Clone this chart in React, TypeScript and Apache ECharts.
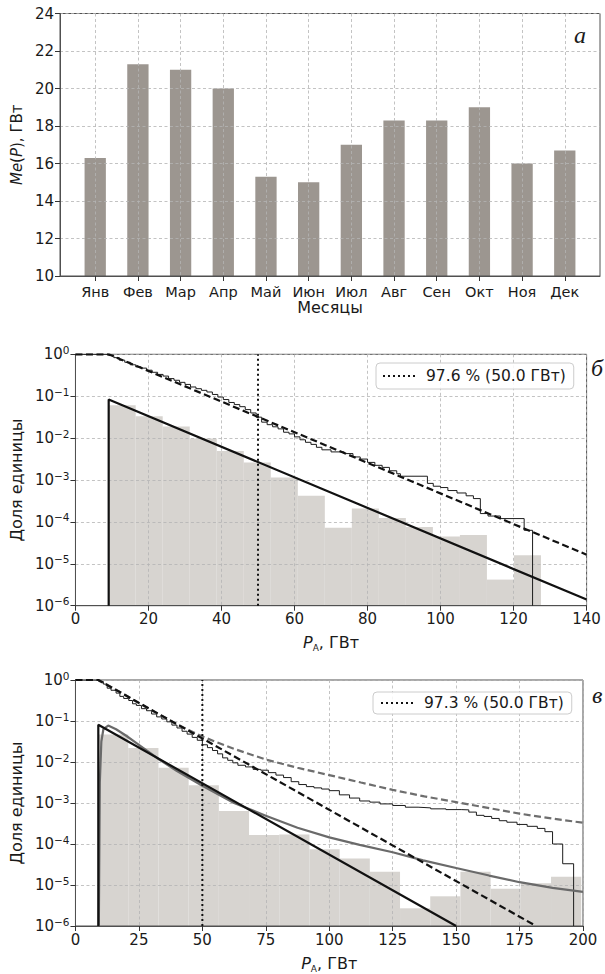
import React, { useEffect, useRef } from 'react';
import * as echarts from 'echarts';

// ---------- Panel а: monthly median power ----------
const MONTHS = ['Янв', 'Фев', 'Мар', 'Апр', 'Май', 'Июн', 'Июл', 'Авг', 'Сен', 'Окт', 'Ноя', 'Дек'];
const MEDIAN_POWER = [16.3, 21.3, 21.0, 20.0, 15.3, 15.0, 17.0, 18.3, 18.3, 19.0, 16.0, 16.7];
const MONTH_POS = [0, 1, 2, 3, 4, 5, 6, 7, 8, 9, 10, 11];

// ---------- Panel б ----------
const HIST_B_EDGES = [9.1, 16.5, 23.9, 31.3, 38.7, 46.1, 53.5, 60.9, 68.3, 75.7, 83.1, 90.5, 97.9, 105.3, 112.7, 120.1, 127.5];
const HIST_B_HEIGHTS = [0.061, 0.033, 0.019, 0.0098, 0.0049, 0.0026, 0.00114, 4.2e-4, 7.3e-5, 2.1e-4, 1.24e-4, 7.6e-5, 4.5e-5, 4.9e-5, 4.2e-6, 1.6e-5];
const EMP_B_X = [0, 9.1, 10.5, 12, 13.5, 15, 16.5, 18, 19.5, 21, 22.5, 24, 25.5, 27, 28.5, 30, 31.5, 33, 34.5, 36, 37.5, 39, 40.5, 42, 43.5, 45, 46.5, 48, 49.5, 51, 52.5, 54, 55.5, 57, 58.5, 60, 61.5, 63, 64.5, 66, 67.5, 70, 73.6, 76, 78, 80, 82, 84, 86, 88, 89, 96.4, 98, 100, 102, 104.5, 107, 109, 110.9, 113, 116.4, 122.9, 125.2];
const EMP_B_Y = [1, 0.933, 0.832, 0.724, 0.646, 0.562, 0.501, 0.468, 0.417, 0.372, 0.331, 0.302, 0.263, 0.24, 0.214, 0.191, 0.166, 0.151, 0.138, 0.126, 0.11, 0.0955, 0.0832, 0.0708, 0.0631, 0.0562, 0.0479, 0.0398, 0.0316, 0.024, 0.0209, 0.0186, 0.0166, 0.0138, 0.0126, 0.0107, 0.00912, 0.00794, 0.00708, 0.00603, 0.00525, 0.00468, 0.00427, 0.00355, 0.00316, 0.00263, 0.00224, 0.002, 0.00166, 0.00141, 0.00123, 8.3e-4, 7.1e-4, 6.6e-4, 5.6e-4, 4.9e-4, 4.2e-4, 3.6e-4, 1.58e-4, 1.38e-4, 1.2e-4, 6.3e-5, 1e-6];
const FIT_B_PDF_X = [9.1, 9.1, 140];
const FIT_B_PDF_Y = [1e-6, 0.083, 1.4e-6];
const FIT_B_SF_X = [0, 9.1, 140];
const FIT_B_SF_Y = [1, 1, 1.65e-5];
const THRESH_B_LABEL = '97.6 % (50.0 ГВт)';

// ---------- Panel в ----------
const HIST_V_EDGES = [8.9, 20.8, 32.7, 44.6, 56.5, 68.4, 80.3, 92.2, 104.1, 116.0, 127.9, 139.8, 151.7, 163.6, 175.5, 187.4, 199.3];
const HIST_V_HEIGHTS = [0.047, 0.022, 0.0072, 0.0027, 6.4e-4, 1.66e-4, 1.7e-4, 7.4e-5, 4.4e-5, 2.1e-5, 2.7e-6, 5.3e-6, 2.1e-5, 8.1e-6, 1.1e-5, 1.6e-5];
const EMP_V_X = [0, 9.3, 11, 12.5, 14, 16, 17.5, 19, 21, 22.5, 24, 26, 28, 30, 32, 34, 36, 38, 40, 42, 44, 46, 48, 50, 52, 54, 56, 58, 60, 62, 64, 67, 70, 73, 76, 79, 82, 85, 88, 91, 94, 97, 100, 104, 108, 112, 116, 120, 125, 130, 135, 140, 146, 152, 155, 158, 161, 164, 167, 170, 174, 178, 182, 185, 188, 192, 196.3];
const EMP_V_Y = [1, 0.912, 0.794, 0.631, 0.562, 0.479, 0.398, 0.355, 0.316, 0.263, 0.24, 0.2, 0.178, 0.148, 0.126, 0.112, 0.0955, 0.0794, 0.0676, 0.0562, 0.0479, 0.0398, 0.0339, 0.0263, 0.0224, 0.0191, 0.0158, 0.0126, 0.011, 0.00955, 0.00832, 0.00759, 0.00661, 0.00631, 0.0055, 0.00479, 0.00417, 0.00331, 0.00282, 0.00251, 0.00234, 0.00219, 0.002, 0.00158, 0.00132, 0.00112, 0.00105, 9.5e-4, 8.7e-4, 7.9e-4, 7.6e-4, 7.2e-4, 6.9e-4, 6.8e-4, 6.0e-4, 5.0e-4, 4.7e-4, 4.2e-4, 3.7e-4, 3.4e-4, 3.0e-4, 2.7e-4, 2.4e-4, 2.0e-4, 1e-4, 3.3e-5, 1e-6];
const FIT_V_PDF_X = [9, 9, 150];
const FIT_V_PDF_Y = [1e-6, 0.081, 1e-6];
const FIT_V_SF_X = [0, 9, 181.5];
const FIT_V_SF_Y = [1, 1, 1e-6];
const ALT_V_PDF_X = [9.2, 9.6, 10.2, 11, 12.9, 16, 20, 25, 33, 40, 50, 62.5, 75, 87.5, 100, 112, 125, 137, 150, 163, 175, 188, 200];
const ALT_V_PDF_Y = [1e-6, 3.2e-3, 0.0316, 0.063, 0.0776, 0.063, 0.0437, 0.0263, 0.0115, 0.00603, 0.00263, 0.001, 4.9e-4, 2.5e-4, 1.45e-4, 9.5e-5, 6.3e-5, 4.0e-5, 2.6e-5, 1.7e-5, 1.17e-5, 8.5e-6, 6.8e-6];
const ALT_V_SF_X = [0, 9, 15, 20, 25, 30, 40, 50, 62.5, 75, 87.5, 100, 112.5, 125, 137.5, 150, 162.5, 175, 187.5, 200];
const ALT_V_SF_Y = [1, 1, 0.631, 0.417, 0.275, 0.182, 0.0832, 0.0417, 0.0209, 0.0115, 0.00724, 0.00479, 0.00316, 0.00209, 0.00145, 0.00105, 7.6e-4, 5.5e-4, 4.2e-4, 3.3e-4];
const THRESH_V_LABEL = '97.3 % (50.0 ГВт)';

const THRESHOLD_X = 50;
const LOG_MIN = 1e-6;
const LOG_MAX = 1;

const FONT = 'DejaVu Sans';
const TEXT = '#1a1a1a';
const FRAME = '#505050';
const GRID_LINE = { color: '#b4b4b4', width: 0.8, type: [3, 2.5] as any };
const HIST_FILL = '#d7d4d0';

const pairs = (xs: number[], ys: number[]) => xs.map((x, i) => [x, ys[i]]);
const bins = (edges: number[], h: number[]) => h.map((v, i) => [edges[i], edges[i + 1], v]);

const logLabel = (v: number) => {
  const e = Math.round(Math.log10(v));
  return `{b|10}{s|${e === 0 ? '0' : '\u2212' + -e}}`;
};
const logRich = {
  b: { fontSize: 15, color: TEXT, fontFamily: FONT, lineHeight: 20, verticalAlign: 'middle' },
  s: { fontSize: 10.5, color: TEXT, fontFamily: FONT, lineHeight: 10, verticalAlign: 'top' },
};

const axisLineStyle = { show: true, onZero: false, lineStyle: { color: FRAME, width: 1 } };
const tickStyle = { show: true, length: 5, inside: false, lineStyle: { color: '#333', width: 1 } };

function histSeries(data: number[][], xi: number) {
  return {
    type: 'custom',
    xAxisIndex: xi,
    yAxisIndex: xi,
    z: -1,
    silent: true,
    encode: { x: [0, 1], y: 2 },
    data,
    renderItem: (params: any, api: any) => {
      const p0 = api.coord([api.value(0), api.value(2)]);
      const p1 = api.coord([api.value(1), LOG_MIN]);
      return {
        type: 'rect',
        shape: { x: p0[0], y: p0[1], width: p1[0] - p0[0], height: p1[1] - p0[1] },
        style: { fill: HIST_FILL },
      };
    },
  };
}

function lineSeries(data: number[][], xi: number, color: string, width: number, type: any, step?: any, name?: string) {
  return {
    type: 'line',
    name,
    xAxisIndex: xi,
    yAxisIndex: xi,
    data,
    step: step || false,
    symbol: 'none',
    showSymbol: false,
    silent: true,
    lineStyle: { color, width, type },
    itemStyle: { color },
  };
}

function logXAxis(gridIndex: number, max: number, interval: number) {
  return {
    gridIndex,
    type: 'value',
    min: 0,
    max,
    interval,
    axisLine: axisLineStyle,
    axisTick: tickStyle,
    axisLabel: { fontSize: 15, color: TEXT, fontFamily: FONT, margin: 6 },
    splitLine: { show: true, lineStyle: GRID_LINE },
    name: '{i|P}{s|А}, ГВт',
    nameLocation: 'middle',
    nameGap: 27,
    nameTextStyle: {
      fontSize: 16, color: TEXT, fontFamily: FONT,
      rich: {
        i: { fontSize: 16, fontStyle: 'italic', color: TEXT, fontFamily: FONT, lineHeight: 20, verticalAlign: 'middle' },
        s: { fontSize: 9, color: TEXT, fontFamily: FONT, lineHeight: 9, verticalAlign: 'bottom' },
      },
    },
  };
}

function logYAxis(gridIndex: number, nameGap: number) {
  return {
    gridIndex,
    type: 'log',
    logBase: 10,
    min: LOG_MIN,
    max: LOG_MAX,
    axisLine: axisLineStyle,
    axisTick: tickStyle,
    axisLabel: { formatter: logLabel, rich: logRich, margin: 6 },
    splitLine: { show: true, lineStyle: GRID_LINE },
    name: 'Доля единицы',
    nameLocation: 'middle',
    nameRotate: 90,
    nameGap,
    nameTextStyle: { fontSize: 16, color: TEXT, fontFamily: FONT },
  };
}

function legendFor(label: string, left: number, top: number, padV: number, padL: number) {
  return {
    data: [label],
    left,
    top,
    orient: 'horizontal',
    itemWidth: 33,
    itemHeight: 14,
    padding: [padV, 8, padV, padL],
    borderColor: '#cccccc',
    borderWidth: 1,
    borderRadius: 4,
    backgroundColor: 'rgba(255,255,255,0.85)',
    selectedMode: false,
    itemStyle: { opacity: 0 },
    textStyle: { fontSize: 15.5, color: TEXT, fontFamily: FONT, padding: [0, 0, 0, 5] },
  };
}

const option: any = {
  animation: false,
  textStyle: { fontFamily: FONT },
  grid: [
    { left: 60, top: 13.5, width: 540, height: 262.5, show: true, borderColor: FRAME, borderWidth: 1, backgroundColor: 'transparent' },
    { left: 72.6, top: 354.3, width: 514, height: 251.4, show: true, borderColor: FRAME, borderWidth: 1, backgroundColor: 'transparent' },
    { left: 75.3, top: 680, width: 507.7, height: 247.7, show: true, borderColor: FRAME, borderWidth: 1, backgroundColor: 'transparent' },
  ],
  xAxis: [
    {
      gridIndex: 0,
      type: 'value',
      min: -0.825,
      max: 11.825,
      axisLine: axisLineStyle,
      axisTick: { ...tickStyle, customValues: MONTH_POS },
      axisLabel: {
        customValues: MONTH_POS,
        formatter: (v: number) => MONTHS[Math.round(v)],
        fontSize: 14.5, color: TEXT, fontFamily: FONT, margin: 8,
      },
      splitLine: { show: true, lineStyle: GRID_LINE },
      name: 'Месяцы',
      nameLocation: 'middle',
      nameGap: 21,
      nameTextStyle: { fontSize: 16, color: TEXT, fontFamily: FONT },
    },
    logXAxis(1, 140, 20),
    logXAxis(2, 200, 25),
  ],
  yAxis: [
    {
      gridIndex: 0,
      type: 'value',
      min: 10,
      max: 24,
      interval: 2,
      axisLine: axisLineStyle,
      axisTick: tickStyle,
      axisLabel: { fontSize: 15, color: TEXT, fontFamily: FONT, margin: 6 },
      splitLine: { show: true, lineStyle: GRID_LINE },
      name: '{i|Me}({i|P}), ГВт',
      nameLocation: 'middle',
      nameRotate: 90,
      nameGap: 32,
      nameTextStyle: {
        fontSize: 15, color: TEXT, fontFamily: FONT,
        rich: { i: { fontSize: 15, fontStyle: 'italic', color: TEXT, fontFamily: FONT } },
      },
    },
    logYAxis(1, 48),
    logYAxis(2, 50),
  ],
  legend: [
    legendFor(THRESH_B_LABEL, 376, 363, 5, 6),
    legendFor(THRESH_V_LABEL, 373, 692, 3, 7),
  ],
  graphic: [
    { type: 'text', x: 580, y: 35, style: { text: 'а', fontSize: 24, fontStyle: 'italic', fontFamily: 'Liberation Serif', fill: TEXT, align: 'center', verticalAlign: 'middle' } },
    { type: 'text', x: 591, y: 368, style: { text: 'б', fontSize: 24, fontStyle: 'italic', fontFamily: 'Liberation Serif', fill: TEXT, align: 'left', verticalAlign: 'middle' } },
    { type: 'text', x: 592, y: 695, style: { text: 'в', fontSize: 24, fontStyle: 'italic', fontFamily: 'Liberation Serif', fill: TEXT, align: 'left', verticalAlign: 'middle' } },
  ],
  series: [
    {
      type: 'bar',
      xAxisIndex: 0,
      yAxisIndex: 0,
      data: MONTH_POS.map((p, i) => [p, MEDIAN_POWER[i]]),
      barWidth: 21.3,
      clip: true,
      z: -1,
      silent: true,
      itemStyle: { color: '#9c9690' },
    },
    // panel б
    histSeries(bins(HIST_B_EDGES, HIST_B_HEIGHTS), 1),
    lineSeries(pairs(EMP_B_X, EMP_B_Y), 1, '#1c1c1c', 1, 'solid', 'end'),
    lineSeries(pairs(FIT_B_SF_X, FIT_B_SF_Y), 1, '#111', 2.2, [7, 3.5]),
    lineSeries(pairs(FIT_B_PDF_X, FIT_B_PDF_Y), 1, '#111', 2.2, 'solid'),
    lineSeries([[THRESHOLD_X, LOG_MIN], [THRESHOLD_X, LOG_MAX]], 1, '#111', 2, [2, 3], false, THRESH_B_LABEL),
    // panel в
    histSeries(bins(HIST_V_EDGES, HIST_V_HEIGHTS), 2),
    lineSeries(pairs(EMP_V_X, EMP_V_Y), 2, '#1c1c1c', 1, 'solid', 'end'),
    lineSeries(pairs(ALT_V_SF_X, ALT_V_SF_Y), 2, '#6e6e6e', 2.2, [7, 3.5]),
    lineSeries(pairs(ALT_V_PDF_X, ALT_V_PDF_Y), 2, '#6a6a6a', 2.2, 'solid'),
    lineSeries(pairs(FIT_V_SF_X, FIT_V_SF_Y), 2, '#111', 2.2, [7, 3.5]),
    lineSeries(pairs(FIT_V_PDF_X, FIT_V_PDF_Y), 2, '#111', 2.2, 'solid'),
    lineSeries([[THRESHOLD_X, LOG_MIN], [THRESHOLD_X, LOG_MAX]], 2, '#111', 2, [2, 3], false, THRESH_V_LABEL),
  ],
};

export default function App() {
  const ref = useRef<HTMLDivElement>(null);
  useEffect(() => {
    if (!ref.current) return;
    const chart = echarts.init(ref.current, null, { renderer: 'svg' });
    chart.setOption(option);
    return () => chart.dispose();
  }, []);
  return (
    <div
      ref={ref}
      style={{ position: 'absolute', left: 0, top: 0, width: 605, height: 974, background: '#ffffff' }}
    />
  );
}
